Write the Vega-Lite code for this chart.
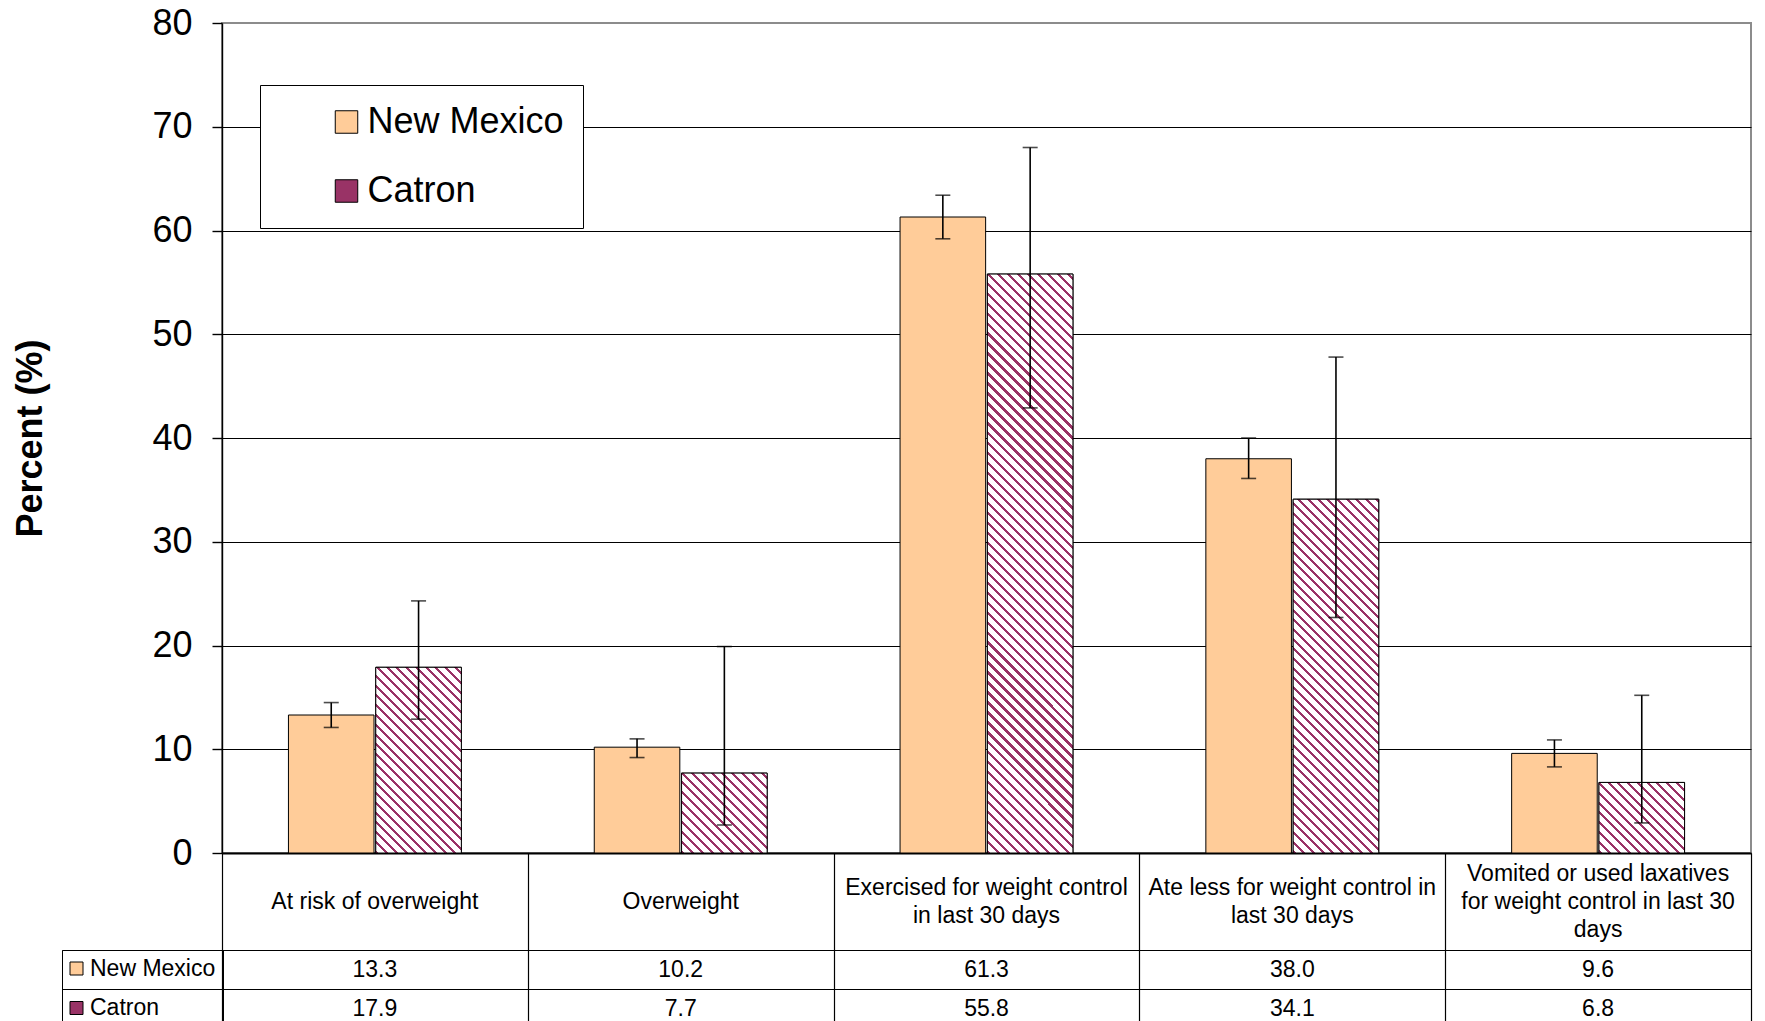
{
"$schema":"https://vega.github.io/schema/vega-lite/v6.json",
"background":"white",
"padding":{"left":11,"top":4,"right":5,"bottom":0},
"spacing":0,
"bounds":"flush",
"config":{"font":"Liberation Sans","view":{"stroke":null}},
"datasets":{
"main":[
{"q":"At risk of overweight","s":"New Mexico","v":13.3,"lo":12.1,"hi":14.5},
{"q":"At risk of overweight","s":"Catron","v":17.9,"lo":12.9,"hi":24.3},
{"q":"Overweight","s":"New Mexico","v":10.2,"lo":9.2,"hi":11.0},
{"q":"Overweight","s":"Catron","v":7.7,"lo":2.7,"hi":19.9},
{"q":"Exercised for weight control in last 30 days","s":"New Mexico","v":61.3,"lo":59.2,"hi":63.4},
{"q":"Exercised for weight control in last 30 days","s":"Catron","v":55.8,"lo":42.9,"hi":68.0},
{"q":"Ate less for weight control in last 30 days","s":"New Mexico","v":38.0,"lo":36.1,"hi":40.0},
{"q":"Ate less for weight control in last 30 days","s":"Catron","v":34.1,"lo":22.7,"hi":47.8},
{"q":"Vomited or used laxatives for weight control in last 30 days","s":"New Mexico","v":9.6,"lo":8.3,"hi":10.9},
{"q":"Vomited or used laxatives for weight control in last 30 days","s":"Catron","v":6.8,"lo":2.9,"hi":15.2}
],
"hdr":[
{"q":"At risk of overweight","label":"At risk of overweight"},
{"q":"Overweight","label":"Overweight"},
{"q":"Exercised for weight control in last 30 days","label":"Exercised for weight control\nin last 30 days"},
{"q":"Ate less for weight control in last 30 days","label":"Ate less for weight control in\nlast 30 days"},
{"q":"Vomited or used laxatives for weight control in last 30 days","label":"Vomited or used laxatives\nfor weight control in last 30\ndays"}
]
},
"resolve":{"legend":{"color":"independent"}},
"vconcat":[
{
"width":1529,"height":830,
"view":{"stroke":"#8c8c8c","strokeWidth":2},
"data":{"name":"main"},
"encoding":{
"x":{"field":"q","type":"nominal","sort":null,"scale":{"domain":["At risk of overweight","Overweight","Exercised for weight control in last 30 days","Ate less for weight control in last 30 days","Vomited or used laxatives for weight control in last 30 days"],"paddingInner":0.4346,"paddingOuter":0.2173},"axis":{"labels":false,"ticks":false,"domain":true,"domainColor":"black","domainWidth":2,"title":null,"grid":false}},
"xOffset":{"field":"s","type":"nominal","sort":null,"scale":{"domain":["New Mexico","Catron"],"paddingInner":0.02,"paddingOuter":0}}
},
"layer":[
{"mark":{"type":"bar","stroke":"black","strokeWidth":1},
"encoding":{
"y":{"field":"v","type":"quantitative","scale":{"domain":[0,80],"nice":false},"axis":{"values":[0,10,20,30,40,50,60,70,80],"title":"Percent (%)","titleFont":"Liberation Sans","titleFontSize":36,"titleFontWeight":"bold","titleColor":"black","titlePadding":102,"labelFont":"Liberation Sans","labelFontSize":36,"labelColor":"black","labelPadding":20,"tickSize":10,"tickColor":"black","tickWidth":1.4,"domainColor":"black","domainWidth":1.4,"grid":true,"gridColor":{"condition":{"test":"datum.value === 80","value":"#8c8c8c"},"value":"black"},"gridWidth":1}},
"color":{"field":"s","type":"nominal","sort":null,"scale":{"domain":["New Mexico","Catron"],"range":["#FFCC99","#993366"]},
"legend":{"orient":"none","legendX":38,"legendY":62,"title":null,"direction":"vertical","labelFont":"Liberation Sans","labelFontSize":36,"labelColor":"black","labelLimit":400,"symbolType":"square","symbolSize":506,"symbolStrokeColor":"black","symbolStrokeWidth":1,"symbolOpacity":1,"padding":19,"rowPadding":33,"symbolOffset":49.5,"labelOffset":3,"strokeColor":"black","fillColor":"white"}}
}},
{"transform":[{"filter":"datum.s === 'Catron'"}],
"mark":{"type":"bar","stroke":"black","strokeWidth":1},
"encoding":{
"y":{"field":"v","type":"quantitative","scale":{"domain":[0,80],"nice":false}},
"fill":{"condition":[
{"test":"datum.v === 17.9","value":{"gradient":"linear","x1":0,"y1":1,"x2":0.5554,"y2":-0.2049,"stops":[
{"offset":0,"color":"#936"},{"offset":0.011,"color":"#936"},{"offset":0.011,"color":"#fff"},{"offset":0.036,"color":"#fff"},
{"offset":0.036,"color":"#936"},{"offset":0.047,"color":"#936"},{"offset":0.047,"color":"#fff"},{"offset":0.072,"color":"#fff"},
{"offset":0.072,"color":"#936"},{"offset":0.083,"color":"#936"},{"offset":0.083,"color":"#fff"},{"offset":0.108,"color":"#fff"},
{"offset":0.108,"color":"#936"},{"offset":0.119,"color":"#936"},{"offset":0.119,"color":"#fff"},{"offset":0.144,"color":"#fff"},
{"offset":0.144,"color":"#936"},{"offset":0.155,"color":"#936"},{"offset":0.155,"color":"#fff"},{"offset":0.18,"color":"#fff"},
{"offset":0.18,"color":"#936"},{"offset":0.191,"color":"#936"},{"offset":0.191,"color":"#fff"},{"offset":0.216,"color":"#fff"},
{"offset":0.216,"color":"#936"},{"offset":0.227,"color":"#936"},{"offset":0.227,"color":"#fff"},{"offset":0.252,"color":"#fff"},
{"offset":0.252,"color":"#936"},{"offset":0.263,"color":"#936"},{"offset":0.263,"color":"#fff"},{"offset":0.288,"color":"#fff"},
{"offset":0.288,"color":"#936"},{"offset":0.299,"color":"#936"},{"offset":0.299,"color":"#fff"},{"offset":0.324,"color":"#fff"},
{"offset":0.324,"color":"#936"},{"offset":0.335,"color":"#936"},{"offset":0.335,"color":"#fff"},{"offset":0.36,"color":"#fff"},
{"offset":0.36,"color":"#936"},{"offset":0.371,"color":"#936"},{"offset":0.371,"color":"#fff"},{"offset":0.396,"color":"#fff"},
{"offset":0.396,"color":"#936"},{"offset":0.407,"color":"#936"},{"offset":0.407,"color":"#fff"},{"offset":0.432,"color":"#fff"},
{"offset":0.432,"color":"#936"},{"offset":0.443,"color":"#936"},{"offset":0.443,"color":"#fff"},{"offset":0.468,"color":"#fff"},
{"offset":0.468,"color":"#936"},{"offset":0.479,"color":"#936"},{"offset":0.479,"color":"#fff"},{"offset":0.504,"color":"#fff"},
{"offset":0.504,"color":"#936"},{"offset":0.515,"color":"#936"},{"offset":0.515,"color":"#fff"},{"offset":0.54,"color":"#fff"},
{"offset":0.54,"color":"#936"},{"offset":0.551,"color":"#936"},{"offset":0.551,"color":"#fff"},{"offset":0.576,"color":"#fff"},
{"offset":0.576,"color":"#936"},{"offset":0.587,"color":"#936"},{"offset":0.587,"color":"#fff"},{"offset":0.612,"color":"#fff"},
{"offset":0.612,"color":"#936"},{"offset":0.623,"color":"#936"},{"offset":0.623,"color":"#fff"},{"offset":0.648,"color":"#fff"},
{"offset":0.648,"color":"#936"},{"offset":0.659,"color":"#936"},{"offset":0.659,"color":"#fff"},{"offset":0.684,"color":"#fff"},
{"offset":0.684,"color":"#936"},{"offset":0.695,"color":"#936"},{"offset":0.695,"color":"#fff"},{"offset":0.72,"color":"#fff"},
{"offset":0.72,"color":"#936"},{"offset":0.731,"color":"#936"},{"offset":0.731,"color":"#fff"},{"offset":0.756,"color":"#fff"},
{"offset":0.756,"color":"#936"},{"offset":0.767,"color":"#936"},{"offset":0.767,"color":"#fff"},{"offset":0.792,"color":"#fff"},
{"offset":0.792,"color":"#936"},{"offset":0.803,"color":"#936"},{"offset":0.803,"color":"#fff"},{"offset":0.828,"color":"#fff"},
{"offset":0.828,"color":"#936"},{"offset":0.839,"color":"#936"},{"offset":0.839,"color":"#fff"},{"offset":0.864,"color":"#fff"},
{"offset":0.864,"color":"#936"},{"offset":0.875,"color":"#936"},{"offset":0.875,"color":"#fff"},{"offset":0.9,"color":"#fff"},
{"offset":0.9,"color":"#936"},{"offset":0.911,"color":"#936"},{"offset":0.911,"color":"#fff"},{"offset":0.936,"color":"#fff"},
{"offset":0.936,"color":"#936"},{"offset":0.947,"color":"#936"},{"offset":0.947,"color":"#fff"},{"offset":0.972,"color":"#fff"},
{"offset":0.972,"color":"#936"},{"offset":0.983,"color":"#936"},{"offset":0.983,"color":"#fff"},{"offset":1,"color":"#fff"}]}},
{"test":"datum.v === 7.7","value":{"gradient":"linear","x1":0,"y1":1,"x2":1.0332,"y2":0.0356,"stops":[
{"offset":0,"color":"#936"},{"offset":0.018,"color":"#936"},{"offset":0.018,"color":"#fff"},{"offset":0.06,"color":"#fff"},
{"offset":0.06,"color":"#936"},{"offset":0.078,"color":"#936"},{"offset":0.078,"color":"#fff"},{"offset":0.12,"color":"#fff"},
{"offset":0.12,"color":"#936"},{"offset":0.138,"color":"#936"},{"offset":0.138,"color":"#fff"},{"offset":0.18,"color":"#fff"},
{"offset":0.18,"color":"#936"},{"offset":0.198,"color":"#936"},{"offset":0.198,"color":"#fff"},{"offset":0.24,"color":"#fff"},
{"offset":0.24,"color":"#936"},{"offset":0.258,"color":"#936"},{"offset":0.258,"color":"#fff"},{"offset":0.3,"color":"#fff"},
{"offset":0.3,"color":"#936"},{"offset":0.318,"color":"#936"},{"offset":0.318,"color":"#fff"},{"offset":0.36,"color":"#fff"},
{"offset":0.36,"color":"#936"},{"offset":0.378,"color":"#936"},{"offset":0.378,"color":"#fff"},{"offset":0.42,"color":"#fff"},
{"offset":0.42,"color":"#936"},{"offset":0.438,"color":"#936"},{"offset":0.438,"color":"#fff"},{"offset":0.48,"color":"#fff"},
{"offset":0.48,"color":"#936"},{"offset":0.498,"color":"#936"},{"offset":0.498,"color":"#fff"},{"offset":0.54,"color":"#fff"},
{"offset":0.54,"color":"#936"},{"offset":0.558,"color":"#936"},{"offset":0.558,"color":"#fff"},{"offset":0.6,"color":"#fff"},
{"offset":0.6,"color":"#936"},{"offset":0.618,"color":"#936"},{"offset":0.618,"color":"#fff"},{"offset":0.66,"color":"#fff"},
{"offset":0.66,"color":"#936"},{"offset":0.678,"color":"#936"},{"offset":0.678,"color":"#fff"},{"offset":0.72,"color":"#fff"},
{"offset":0.72,"color":"#936"},{"offset":0.738,"color":"#936"},{"offset":0.738,"color":"#fff"},{"offset":0.78,"color":"#fff"},
{"offset":0.78,"color":"#936"},{"offset":0.798,"color":"#936"},{"offset":0.798,"color":"#fff"},{"offset":0.84,"color":"#fff"},
{"offset":0.84,"color":"#936"},{"offset":0.858,"color":"#936"},{"offset":0.858,"color":"#fff"},{"offset":0.9,"color":"#fff"},
{"offset":0.9,"color":"#936"},{"offset":0.918,"color":"#936"},{"offset":0.918,"color":"#fff"},{"offset":0.96,"color":"#fff"},
{"offset":0.96,"color":"#936"},{"offset":0.978,"color":"#936"},{"offset":0.978,"color":"#fff"},{"offset":1,"color":"#fff"}]}},
{"test":"datum.v === 55.8","value":{"gradient":"linear","x1":0,"y1":1,"x2":0.1661,"y2":-0.1233,"stops":[
{"offset":0,"color":"#936"},{"offset":0.005,"color":"#936"},{"offset":0.005,"color":"#fff"},{"offset":0.015,"color":"#fff"},
{"offset":0.015,"color":"#936"},{"offset":0.02,"color":"#936"},{"offset":0.02,"color":"#fff"},{"offset":0.03,"color":"#fff"},
{"offset":0.03,"color":"#936"},{"offset":0.035,"color":"#936"},{"offset":0.035,"color":"#fff"},{"offset":0.045,"color":"#fff"},
{"offset":0.045,"color":"#936"},{"offset":0.05,"color":"#936"},{"offset":0.05,"color":"#fff"},{"offset":0.06,"color":"#fff"},
{"offset":0.06,"color":"#936"},{"offset":0.065,"color":"#936"},{"offset":0.065,"color":"#fff"},{"offset":0.075,"color":"#fff"},
{"offset":0.075,"color":"#936"},{"offset":0.08,"color":"#936"},{"offset":0.08,"color":"#fff"},{"offset":0.09,"color":"#fff"},
{"offset":0.09,"color":"#936"},{"offset":0.095,"color":"#936"},{"offset":0.095,"color":"#fff"},{"offset":0.105,"color":"#fff"},
{"offset":0.105,"color":"#936"},{"offset":0.11,"color":"#936"},{"offset":0.11,"color":"#fff"},{"offset":0.12,"color":"#fff"},
{"offset":0.12,"color":"#936"},{"offset":0.125,"color":"#936"},{"offset":0.125,"color":"#fff"},{"offset":0.135,"color":"#fff"},
{"offset":0.135,"color":"#936"},{"offset":0.14,"color":"#936"},{"offset":0.14,"color":"#fff"},{"offset":0.15,"color":"#fff"},
{"offset":0.15,"color":"#936"},{"offset":0.155,"color":"#936"},{"offset":0.155,"color":"#fff"},{"offset":0.165,"color":"#fff"},
{"offset":0.165,"color":"#936"},{"offset":0.17,"color":"#936"},{"offset":0.17,"color":"#fff"},{"offset":0.18,"color":"#fff"},
{"offset":0.18,"color":"#936"},{"offset":0.185,"color":"#936"},{"offset":0.185,"color":"#fff"},{"offset":0.195,"color":"#fff"},
{"offset":0.195,"color":"#936"},{"offset":0.2,"color":"#936"},{"offset":0.2,"color":"#fff"},{"offset":0.21,"color":"#fff"},
{"offset":0.21,"color":"#936"},{"offset":0.215,"color":"#936"},{"offset":0.215,"color":"#fff"},{"offset":0.225,"color":"#fff"},
{"offset":0.225,"color":"#936"},{"offset":0.23,"color":"#936"},{"offset":0.23,"color":"#fff"},{"offset":0.24,"color":"#fff"},
{"offset":0.24,"color":"#936"},{"offset":0.245,"color":"#936"},{"offset":0.245,"color":"#fff"},{"offset":0.255,"color":"#fff"},
{"offset":0.255,"color":"#936"},{"offset":0.26,"color":"#936"},{"offset":0.26,"color":"#fff"},{"offset":0.27,"color":"#fff"},
{"offset":0.27,"color":"#936"},{"offset":0.275,"color":"#936"},{"offset":0.275,"color":"#fff"},{"offset":0.285,"color":"#fff"},
{"offset":0.285,"color":"#936"},{"offset":0.29,"color":"#936"},{"offset":0.29,"color":"#fff"},{"offset":0.3,"color":"#fff"},
{"offset":0.3,"color":"#936"},{"offset":0.305,"color":"#936"},{"offset":0.305,"color":"#fff"},{"offset":0.315,"color":"#fff"},
{"offset":0.315,"color":"#936"},{"offset":0.32,"color":"#936"},{"offset":0.32,"color":"#fff"},{"offset":0.33,"color":"#fff"},
{"offset":0.33,"color":"#936"},{"offset":0.335,"color":"#936"},{"offset":0.335,"color":"#fff"},{"offset":0.345,"color":"#fff"},
{"offset":0.345,"color":"#936"},{"offset":0.35,"color":"#936"},{"offset":0.35,"color":"#fff"},{"offset":0.36,"color":"#fff"},
{"offset":0.36,"color":"#936"},{"offset":0.365,"color":"#936"},{"offset":0.365,"color":"#fff"},{"offset":0.375,"color":"#fff"},
{"offset":0.375,"color":"#936"},{"offset":0.38,"color":"#936"},{"offset":0.38,"color":"#fff"},{"offset":0.39,"color":"#fff"},
{"offset":0.39,"color":"#936"},{"offset":0.395,"color":"#936"},{"offset":0.395,"color":"#fff"},{"offset":0.405,"color":"#fff"},
{"offset":0.405,"color":"#936"},{"offset":0.41,"color":"#936"},{"offset":0.41,"color":"#fff"},{"offset":0.42,"color":"#fff"},
{"offset":0.42,"color":"#936"},{"offset":0.425,"color":"#936"},{"offset":0.425,"color":"#fff"},{"offset":0.435,"color":"#fff"},
{"offset":0.435,"color":"#936"},{"offset":0.44,"color":"#936"},{"offset":0.44,"color":"#fff"},{"offset":0.45,"color":"#fff"},
{"offset":0.45,"color":"#936"},{"offset":0.455,"color":"#936"},{"offset":0.455,"color":"#fff"},{"offset":0.465,"color":"#fff"},
{"offset":0.465,"color":"#936"},{"offset":0.47,"color":"#936"},{"offset":0.47,"color":"#fff"},{"offset":0.48,"color":"#fff"},
{"offset":0.48,"color":"#936"},{"offset":0.485,"color":"#936"},{"offset":0.485,"color":"#fff"},{"offset":0.495,"color":"#fff"},
{"offset":0.495,"color":"#936"},{"offset":0.5,"color":"#936"},{"offset":0.5,"color":"#fff"},{"offset":0.51,"color":"#fff"},
{"offset":0.51,"color":"#936"},{"offset":0.515,"color":"#936"},{"offset":0.515,"color":"#fff"},{"offset":0.525,"color":"#fff"},
{"offset":0.525,"color":"#936"},{"offset":0.53,"color":"#936"},{"offset":0.53,"color":"#fff"},{"offset":0.54,"color":"#fff"},
{"offset":0.54,"color":"#936"},{"offset":0.545,"color":"#936"},{"offset":0.545,"color":"#fff"},{"offset":0.555,"color":"#fff"},
{"offset":0.555,"color":"#936"},{"offset":0.56,"color":"#936"},{"offset":0.56,"color":"#fff"},{"offset":0.57,"color":"#fff"},
{"offset":0.57,"color":"#936"},{"offset":0.575,"color":"#936"},{"offset":0.575,"color":"#fff"},{"offset":0.585,"color":"#fff"},
{"offset":0.585,"color":"#936"},{"offset":0.59,"color":"#936"},{"offset":0.59,"color":"#fff"},{"offset":0.6,"color":"#fff"},
{"offset":0.6,"color":"#936"},{"offset":0.605,"color":"#936"},{"offset":0.605,"color":"#fff"},{"offset":0.615,"color":"#fff"},
{"offset":0.615,"color":"#936"},{"offset":0.62,"color":"#936"},{"offset":0.62,"color":"#fff"},{"offset":0.63,"color":"#fff"},
{"offset":0.63,"color":"#936"},{"offset":0.635,"color":"#936"},{"offset":0.635,"color":"#fff"},{"offset":0.645,"color":"#fff"},
{"offset":0.645,"color":"#936"},{"offset":0.65,"color":"#936"},{"offset":0.65,"color":"#fff"},{"offset":0.66,"color":"#fff"},
{"offset":0.66,"color":"#936"},{"offset":0.665,"color":"#936"},{"offset":0.665,"color":"#fff"},{"offset":0.675,"color":"#fff"},
{"offset":0.675,"color":"#936"},{"offset":0.68,"color":"#936"},{"offset":0.68,"color":"#fff"},{"offset":0.69,"color":"#fff"},
{"offset":0.69,"color":"#936"},{"offset":0.695,"color":"#936"},{"offset":0.695,"color":"#fff"},{"offset":0.705,"color":"#fff"},
{"offset":0.705,"color":"#936"},{"offset":0.71,"color":"#936"},{"offset":0.71,"color":"#fff"},{"offset":0.72,"color":"#fff"},
{"offset":0.72,"color":"#936"},{"offset":0.725,"color":"#936"},{"offset":0.725,"color":"#fff"},{"offset":0.735,"color":"#fff"},
{"offset":0.735,"color":"#936"},{"offset":0.74,"color":"#936"},{"offset":0.74,"color":"#fff"},{"offset":0.75,"color":"#fff"},
{"offset":0.75,"color":"#936"},{"offset":0.755,"color":"#936"},{"offset":0.755,"color":"#fff"},{"offset":0.765,"color":"#fff"},
{"offset":0.765,"color":"#936"},{"offset":0.77,"color":"#936"},{"offset":0.77,"color":"#fff"},{"offset":0.78,"color":"#fff"},
{"offset":0.78,"color":"#936"},{"offset":0.785,"color":"#936"},{"offset":0.785,"color":"#fff"},{"offset":0.795,"color":"#fff"},
{"offset":0.795,"color":"#936"},{"offset":0.8,"color":"#936"},{"offset":0.8,"color":"#fff"},{"offset":0.81,"color":"#fff"},
{"offset":0.81,"color":"#936"},{"offset":0.815,"color":"#936"},{"offset":0.815,"color":"#fff"},{"offset":0.825,"color":"#fff"},
{"offset":0.825,"color":"#936"},{"offset":0.83,"color":"#936"},{"offset":0.83,"color":"#fff"},{"offset":0.84,"color":"#fff"},
{"offset":0.84,"color":"#936"},{"offset":0.845,"color":"#936"},{"offset":0.845,"color":"#fff"},{"offset":0.855,"color":"#fff"},
{"offset":0.855,"color":"#936"},{"offset":0.86,"color":"#936"},{"offset":0.86,"color":"#fff"},{"offset":0.87,"color":"#fff"},
{"offset":0.87,"color":"#936"},{"offset":0.875,"color":"#936"},{"offset":0.875,"color":"#fff"},{"offset":0.885,"color":"#fff"},
{"offset":0.885,"color":"#936"},{"offset":0.89,"color":"#936"},{"offset":0.89,"color":"#fff"},{"offset":0.9,"color":"#fff"},
{"offset":0.9,"color":"#936"},{"offset":0.905,"color":"#936"},{"offset":0.905,"color":"#fff"},{"offset":0.915,"color":"#fff"},
{"offset":0.915,"color":"#936"},{"offset":0.92,"color":"#936"},{"offset":0.92,"color":"#fff"},{"offset":0.93,"color":"#fff"},
{"offset":0.93,"color":"#936"},{"offset":0.935,"color":"#936"},{"offset":0.935,"color":"#fff"},{"offset":0.945,"color":"#fff"},
{"offset":0.945,"color":"#936"},{"offset":0.95,"color":"#936"},{"offset":0.95,"color":"#fff"},{"offset":0.96,"color":"#fff"},
{"offset":0.96,"color":"#936"},{"offset":0.965,"color":"#936"},{"offset":0.965,"color":"#fff"},{"offset":0.975,"color":"#fff"},
{"offset":0.975,"color":"#936"},{"offset":0.98,"color":"#936"},{"offset":0.98,"color":"#fff"},{"offset":0.99,"color":"#fff"},
{"offset":0.99,"color":"#936"},{"offset":0.995,"color":"#936"},{"offset":0.995,"color":"#fff"},{"offset":1,"color":"#fff"}]}},
{"test":"datum.v === 34.1","value":{"gradient":"linear","x1":0,"y1":1,"x2":0.2839,"y2":-0.1733,"stops":[
{"offset":0,"color":"#936"},{"offset":0.007,"color":"#936"},{"offset":0.007,"color":"#fff"},{"offset":0.022,"color":"#fff"},
{"offset":0.022,"color":"#936"},{"offset":0.029,"color":"#936"},{"offset":0.029,"color":"#fff"},{"offset":0.044,"color":"#fff"},
{"offset":0.044,"color":"#936"},{"offset":0.051,"color":"#936"},{"offset":0.051,"color":"#fff"},{"offset":0.066,"color":"#fff"},
{"offset":0.066,"color":"#936"},{"offset":0.073,"color":"#936"},{"offset":0.073,"color":"#fff"},{"offset":0.088,"color":"#fff"},
{"offset":0.088,"color":"#936"},{"offset":0.095,"color":"#936"},{"offset":0.095,"color":"#fff"},{"offset":0.11,"color":"#fff"},
{"offset":0.11,"color":"#936"},{"offset":0.117,"color":"#936"},{"offset":0.117,"color":"#fff"},{"offset":0.132,"color":"#fff"},
{"offset":0.132,"color":"#936"},{"offset":0.139,"color":"#936"},{"offset":0.139,"color":"#fff"},{"offset":0.154,"color":"#fff"},
{"offset":0.154,"color":"#936"},{"offset":0.161,"color":"#936"},{"offset":0.161,"color":"#fff"},{"offset":0.176,"color":"#fff"},
{"offset":0.176,"color":"#936"},{"offset":0.183,"color":"#936"},{"offset":0.183,"color":"#fff"},{"offset":0.198,"color":"#fff"},
{"offset":0.198,"color":"#936"},{"offset":0.205,"color":"#936"},{"offset":0.205,"color":"#fff"},{"offset":0.22,"color":"#fff"},
{"offset":0.22,"color":"#936"},{"offset":0.227,"color":"#936"},{"offset":0.227,"color":"#fff"},{"offset":0.242,"color":"#fff"},
{"offset":0.242,"color":"#936"},{"offset":0.249,"color":"#936"},{"offset":0.249,"color":"#fff"},{"offset":0.264,"color":"#fff"},
{"offset":0.264,"color":"#936"},{"offset":0.271,"color":"#936"},{"offset":0.271,"color":"#fff"},{"offset":0.286,"color":"#fff"},
{"offset":0.286,"color":"#936"},{"offset":0.293,"color":"#936"},{"offset":0.293,"color":"#fff"},{"offset":0.308,"color":"#fff"},
{"offset":0.308,"color":"#936"},{"offset":0.315,"color":"#936"},{"offset":0.315,"color":"#fff"},{"offset":0.33,"color":"#fff"},
{"offset":0.33,"color":"#936"},{"offset":0.337,"color":"#936"},{"offset":0.337,"color":"#fff"},{"offset":0.352,"color":"#fff"},
{"offset":0.352,"color":"#936"},{"offset":0.359,"color":"#936"},{"offset":0.359,"color":"#fff"},{"offset":0.374,"color":"#fff"},
{"offset":0.374,"color":"#936"},{"offset":0.381,"color":"#936"},{"offset":0.381,"color":"#fff"},{"offset":0.396,"color":"#fff"},
{"offset":0.396,"color":"#936"},{"offset":0.403,"color":"#936"},{"offset":0.403,"color":"#fff"},{"offset":0.418,"color":"#fff"},
{"offset":0.418,"color":"#936"},{"offset":0.425,"color":"#936"},{"offset":0.425,"color":"#fff"},{"offset":0.44,"color":"#fff"},
{"offset":0.44,"color":"#936"},{"offset":0.447,"color":"#936"},{"offset":0.447,"color":"#fff"},{"offset":0.462,"color":"#fff"},
{"offset":0.462,"color":"#936"},{"offset":0.469,"color":"#936"},{"offset":0.469,"color":"#fff"},{"offset":0.484,"color":"#fff"},
{"offset":0.484,"color":"#936"},{"offset":0.491,"color":"#936"},{"offset":0.491,"color":"#fff"},{"offset":0.506,"color":"#fff"},
{"offset":0.506,"color":"#936"},{"offset":0.513,"color":"#936"},{"offset":0.513,"color":"#fff"},{"offset":0.528,"color":"#fff"},
{"offset":0.528,"color":"#936"},{"offset":0.535,"color":"#936"},{"offset":0.535,"color":"#fff"},{"offset":0.55,"color":"#fff"},
{"offset":0.55,"color":"#936"},{"offset":0.557,"color":"#936"},{"offset":0.557,"color":"#fff"},{"offset":0.572,"color":"#fff"},
{"offset":0.572,"color":"#936"},{"offset":0.579,"color":"#936"},{"offset":0.579,"color":"#fff"},{"offset":0.594,"color":"#fff"},
{"offset":0.594,"color":"#936"},{"offset":0.601,"color":"#936"},{"offset":0.601,"color":"#fff"},{"offset":0.616,"color":"#fff"},
{"offset":0.616,"color":"#936"},{"offset":0.623,"color":"#936"},{"offset":0.623,"color":"#fff"},{"offset":0.638,"color":"#fff"},
{"offset":0.638,"color":"#936"},{"offset":0.645,"color":"#936"},{"offset":0.645,"color":"#fff"},{"offset":0.66,"color":"#fff"},
{"offset":0.66,"color":"#936"},{"offset":0.667,"color":"#936"},{"offset":0.667,"color":"#fff"},{"offset":0.682,"color":"#fff"},
{"offset":0.682,"color":"#936"},{"offset":0.689,"color":"#936"},{"offset":0.689,"color":"#fff"},{"offset":0.704,"color":"#fff"},
{"offset":0.704,"color":"#936"},{"offset":0.711,"color":"#936"},{"offset":0.711,"color":"#fff"},{"offset":0.726,"color":"#fff"},
{"offset":0.726,"color":"#936"},{"offset":0.733,"color":"#936"},{"offset":0.733,"color":"#fff"},{"offset":0.748,"color":"#fff"},
{"offset":0.748,"color":"#936"},{"offset":0.755,"color":"#936"},{"offset":0.755,"color":"#fff"},{"offset":0.77,"color":"#fff"},
{"offset":0.77,"color":"#936"},{"offset":0.777,"color":"#936"},{"offset":0.777,"color":"#fff"},{"offset":0.792,"color":"#fff"},
{"offset":0.792,"color":"#936"},{"offset":0.799,"color":"#936"},{"offset":0.799,"color":"#fff"},{"offset":0.814,"color":"#fff"},
{"offset":0.814,"color":"#936"},{"offset":0.821,"color":"#936"},{"offset":0.821,"color":"#fff"},{"offset":0.836,"color":"#fff"},
{"offset":0.836,"color":"#936"},{"offset":0.843,"color":"#936"},{"offset":0.843,"color":"#fff"},{"offset":0.858,"color":"#fff"},
{"offset":0.858,"color":"#936"},{"offset":0.865,"color":"#936"},{"offset":0.865,"color":"#fff"},{"offset":0.88,"color":"#fff"},
{"offset":0.88,"color":"#936"},{"offset":0.887,"color":"#936"},{"offset":0.887,"color":"#fff"},{"offset":0.902,"color":"#fff"},
{"offset":0.902,"color":"#936"},{"offset":0.909,"color":"#936"},{"offset":0.909,"color":"#fff"},{"offset":0.924,"color":"#fff"},
{"offset":0.924,"color":"#936"},{"offset":0.931,"color":"#936"},{"offset":0.931,"color":"#fff"},{"offset":0.946,"color":"#fff"},
{"offset":0.946,"color":"#936"},{"offset":0.953,"color":"#936"},{"offset":0.953,"color":"#fff"},{"offset":0.968,"color":"#fff"},
{"offset":0.968,"color":"#936"},{"offset":0.975,"color":"#936"},{"offset":0.975,"color":"#fff"},{"offset":0.99,"color":"#fff"},
{"offset":0.99,"color":"#936"},{"offset":0.997,"color":"#936"},{"offset":0.997,"color":"#fff"},{"offset":1,"color":"#fff"}]}},
{"test":"datum.v === 6.8","value":{"gradient":"linear","x1":0,"y1":1,"x2":1.0863,"y2":0.1047,"stops":[
{"offset":0,"color":"#936"},{"offset":0.02,"color":"#936"},{"offset":0.02,"color":"#fff"},{"offset":0.0625,"color":"#fff"},
{"offset":0.0625,"color":"#936"},{"offset":0.0825,"color":"#936"},{"offset":0.0825,"color":"#fff"},{"offset":0.125,"color":"#fff"},
{"offset":0.125,"color":"#936"},{"offset":0.145,"color":"#936"},{"offset":0.145,"color":"#fff"},{"offset":0.1875,"color":"#fff"},
{"offset":0.1875,"color":"#936"},{"offset":0.2075,"color":"#936"},{"offset":0.2075,"color":"#fff"},{"offset":0.25,"color":"#fff"},
{"offset":0.25,"color":"#936"},{"offset":0.27,"color":"#936"},{"offset":0.27,"color":"#fff"},{"offset":0.3125,"color":"#fff"},
{"offset":0.3125,"color":"#936"},{"offset":0.3325,"color":"#936"},{"offset":0.3325,"color":"#fff"},{"offset":0.375,"color":"#fff"},
{"offset":0.375,"color":"#936"},{"offset":0.395,"color":"#936"},{"offset":0.395,"color":"#fff"},{"offset":0.4375,"color":"#fff"},
{"offset":0.4375,"color":"#936"},{"offset":0.4575,"color":"#936"},{"offset":0.4575,"color":"#fff"},{"offset":0.5,"color":"#fff"},
{"offset":0.5,"color":"#936"},{"offset":0.52,"color":"#936"},{"offset":0.52,"color":"#fff"},{"offset":0.5625,"color":"#fff"},
{"offset":0.5625,"color":"#936"},{"offset":0.5825,"color":"#936"},{"offset":0.5825,"color":"#fff"},{"offset":0.625,"color":"#fff"},
{"offset":0.625,"color":"#936"},{"offset":0.645,"color":"#936"},{"offset":0.645,"color":"#fff"},{"offset":0.6875,"color":"#fff"},
{"offset":0.6875,"color":"#936"},{"offset":0.7075,"color":"#936"},{"offset":0.7075,"color":"#fff"},{"offset":0.75,"color":"#fff"},
{"offset":0.75,"color":"#936"},{"offset":0.77,"color":"#936"},{"offset":0.77,"color":"#fff"},{"offset":0.8125,"color":"#fff"},
{"offset":0.8125,"color":"#936"},{"offset":0.8325,"color":"#936"},{"offset":0.8325,"color":"#fff"},{"offset":0.875,"color":"#fff"},
{"offset":0.875,"color":"#936"},{"offset":0.895,"color":"#936"},{"offset":0.895,"color":"#fff"},{"offset":0.9375,"color":"#fff"},
{"offset":0.9375,"color":"#936"},{"offset":0.9575,"color":"#936"},{"offset":0.9575,"color":"#fff"},{"offset":1,"color":"#fff"}]}}
],"value":"#993366"}
}},
{"mark":{"type":"rule","color":"black","strokeWidth":1.6},
"encoding":{"y":{"field":"lo","type":"quantitative","scale":{"domain":[0,80],"nice":false}},"y2":{"field":"hi"}}},
{"mark":{"type":"tick","color":"black","thickness":1.6,"size":15},
"encoding":{"y":{"field":"lo","type":"quantitative","scale":{"domain":[0,80],"nice":false}}}},
{"mark":{"type":"tick","color":"black","thickness":1.6,"size":15},
"encoding":{"y":{"field":"hi","type":"quantitative","scale":{"domain":[0,80],"nice":false}}}}
]
},
{
"width":1529,"height":97,
"data":{"name":"hdr"},
"encoding":{
"x":{"field":"q","type":"nominal","sort":null,"scale":{"type":"band","domain":["At risk of overweight","Overweight","Exercised for weight control in last 30 days","Ate less for weight control in last 30 days","Vomited or used laxatives for weight control in last 30 days"],"paddingInner":0,"paddingOuter":0},"axis":{"grid":true,"tickBand":"extent","labels":false,"ticks":false,"domain":false,"title":null,"gridColor":"black","gridWidth":1.2}},
"text":{"field":"label","type":"nominal"}
},
"layer":[
{"transform":[{"filter":"length(split(datum.label, '\\n')) === 1"}],
"mark":{"type":"text","font":"Liberation Sans","fontSize":23,"lineHeight":28,"lineBreak":"\n","color":"black","align":"center","baseline":"middle"}},
{"transform":[{"filter":"length(split(datum.label, '\\n')) === 2"}],
"mark":{"type":"text","font":"Liberation Sans","fontSize":23,"lineHeight":28,"lineBreak":"\n","color":"black","align":"center","baseline":"middle","dy":-14}},
{"transform":[{"filter":"length(split(datum.label, '\\n')) === 3"}],
"mark":{"type":"text","font":"Liberation Sans","fontSize":23,"lineHeight":28,"lineBreak":"\n","color":"black","align":"center","baseline":"middle","dy":-28}}
]
},
{
"width":1529,"height":78,
"data":{"name":"main"},
"encoding":{
"x":{"field":"q","type":"nominal","sort":null,"scale":{"type":"band","domain":["At risk of overweight","Overweight","Exercised for weight control in last 30 days","Ate less for weight control in last 30 days","Vomited or used laxatives for weight control in last 30 days"],"paddingInner":0,"paddingOuter":0},"axis":{"grid":true,"tickBand":"extent","labels":false,"ticks":false,"domain":false,"title":null,"gridColor":"black","gridWidth":1.2}},
"y":{"field":"s","type":"nominal","sort":null,"scale":{"type":"band","domain":["New Mexico","Catron"],"paddingInner":0,"paddingOuter":0},"axis":{"grid":true,"tickBand":"extent","ticks":true,"tickSize":160,"tickColor":"black","tickWidth":1.2,"labels":false,"domain":false,"title":null,"gridColor":"black","gridWidth":1.2}}
},
"layer":[
{"mark":{"type":"text","font":"Liberation Sans","fontSize":23,"color":"black","align":"center","baseline":"middle"},
"encoding":{"text":{"field":"v","type":"quantitative","format":".1f"}}},
{"mark":{"type":"text","text":""},
"encoding":{"color":{"field":"s","type":"nominal","sort":null,"scale":{"domain":["New Mexico","Catron"],"range":["#FFCC99","#993366"]},
"legend":{"orient":"none","legendX":-160,"legendY":0,"title":null,"direction":"vertical","labelFont":"Liberation Sans","labelFontSize":23,"labelColor":"black","labelLimit":200,"symbolType":"square","symbolSize":169,"symbolStrokeColor":"black","symbolStrokeWidth":1,"symbolOpacity":1,"padding":7,"rowPadding":15.5,"symbolOffset":-4,"labelOffset":2,"strokeColor":"black"}}}}
]
}
]
}
